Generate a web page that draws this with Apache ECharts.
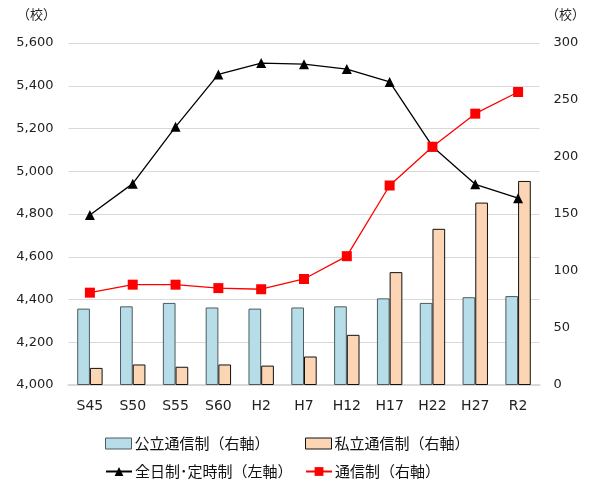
<!DOCTYPE html>
<html><head><meta charset="utf-8">
<script src="https://cdn.jsdelivr.net/npm/echarts@6/dist/echarts.min.js"></script>
<style>html,body{margin:0;padding:0;background:#fff}#c{width:597px;height:492px}</style>
</head><body><div id="c"></div>
<script>
const categories = ['S45','S50','S55','S60','H2','H7','H12','H17','H22','H27','R2'];
const fullPartTime = [4795, 4942, 5208, 5453, 5506, 5501, 5478, 5418, 5116, 4939, 4874];
const correspondence = [81, 88, 88, 85, 84, 93, 113, 175, 209, 238, 257];
const publicCorr = [67, 69, 72, 68, 67, 68, 69, 76, 72, 77, 78];
const privateCorr = [15, 18, 16, 18, 17, 25, 44, 99, 137, 160, 179];
const leftTicks = {min: 4000, max: 5600, interval: 200};
const rightTicks = {min: 0, max: 300, interval: 50};
const names = ['公立通信制（右軸）','私立通信制（右軸）','全日制･定時制（左軸）','通信制（右軸）'];

const font = 'DejaVu Sans, Verdana, sans-serif';
const cjk = '"Noto Sans CJK JP", sans-serif';
const chart = echarts.init(document.getElementById('c'), null, {renderer: 'canvas'});
const legendBase = {itemWidth: 26, itemHeight: 11, itemGap: 0,
  textStyle: {fontFamily: cjk, fontSize: 15, color: '#111', padding: [0,0,0,-2]}};
const barLegend = Object.assign({}, legendBase, {icon: 'rect', itemStyle: {borderWidth: 1}});
chart.setOption({
  animation: false,
  grid: {left: 68.5, right: 57.5, top: 43, bottom: 107},
  graphic: [
    {type: 'text', left: 17, top: 8, style: {text: '（校）', font: '13px ' + cjk, fill: '#222'}},
    {type: 'text', left: 546, top: 8, style: {text: '（校）', font: '13px ' + cjk, fill: '#222'}}
  ],
  legend: [
    Object.assign({data: [names[0]], left: 100, top: 431}, barLegend),
    Object.assign({data: [names[1]], left: 300, top: 431}, barLegend),
    Object.assign({data: [names[2]], left: 100, top: 459}, legendBase),
    Object.assign({data: [names[3]], left: 300, top: 459}, legendBase)
  ],
  xAxis: {
    type: 'category', data: categories,
    axisLine: {lineStyle: {color: '#d9d9d9', width: 2}},
    axisTick: {show: false},
    axisLabel: {fontFamily: font, fontSize: 14, color: '#222', margin: 14}
  },
  yAxis: [
    {type: 'value', min: leftTicks.min, max: leftTicks.max, interval: leftTicks.interval,
     axisLabel: {fontFamily: font, fontSize: 13, color: '#222', margin: 15,
       formatter: v => v.toLocaleString('en-US')},
     splitLine: {lineStyle: {color: '#d9d9d9', width: 1}},
     axisLine: {show: false}, axisTick: {show: false}},
    {type: 'value', min: rightTicks.min, max: rightTicks.max, interval: rightTicks.interval,
     axisLabel: {fontFamily: font, fontSize: 13, color: '#222', margin: 14},
     splitLine: {show: false}, axisLine: {show: false}, axisTick: {show: false}}
  ],
  series: [
    {name: names[0], type: 'bar', yAxisIndex: 1, data: publicCorr, barWidth: 12.7, barGap: '0%',
     itemStyle: {color: '#b7dee8', borderColor: '#4d5b60', borderWidth: 1}},
    {name: names[1], type: 'bar', yAxisIndex: 1, data: privateCorr, barWidth: 12.7, barGap: '0%',
     itemStyle: {color: '#fcd5b5', borderColor: '#111', borderWidth: 1}},
    {name: names[2], type: 'line', yAxisIndex: 0, data: fullPartTime, symbol: 'triangle', symbolSize: 10,
     lineStyle: {color: '#000', width: 1.3}, itemStyle: {color: '#000'}},
    {name: names[3], type: 'line', yAxisIndex: 1, data: correspondence, symbol: 'rect', symbolSize: 10,
     lineStyle: {color: '#ff0000', width: 1.3}, itemStyle: {color: '#ff0000'}}
  ]
});
</script></body></html>
